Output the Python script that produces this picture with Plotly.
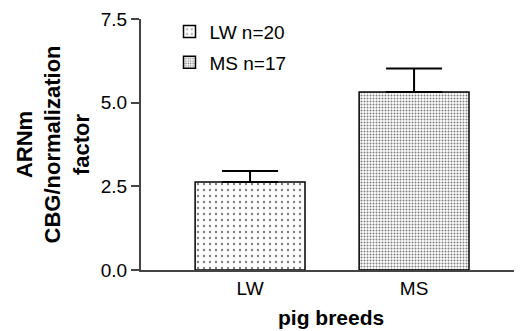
import plotly.graph_objects as go

categories = ["LW", "MS"]
legend_names = ["LW n=20", "MS n=17"]
means = [2.63, 5.32]
sem = [0.33, 0.70]
y_ticks = [0.0, 2.5, 5.0, 7.5]

FONT = "Liberation Sans, Arial, sans-serif"

# page has an 8px body margin; figure is sized/offset to compensate
W, H = 514, 323
L, T, B, R = 133, 7, 61, 1
PW = W - L - R
PH = H - T - B

patterns = [
    dict(shape=".", size=6, solidity=0.12, fgcolor="black", bgcolor="white", fillmode="overlay"),
    dict(shape=".", size=3, solidity=0.35, fgcolor="black", bgcolor="white", fillmode="overlay"),
]

fig = go.Figure()
for i, cat in enumerate(categories):
    fig.add_trace(go.Bar(
        x=[i], y=[means[i]], name=legend_names[i], width=0.67,
        legendgroup=cat,
        marker=dict(color="white", line=dict(color="black", width=1.5), pattern=patterns[i]),
        error_y=dict(type="data", array=[sem[i]], arrayminus=[0], symmetric=False,
                     color="black", thickness=2, width=28),
    ))

fig.update_layout(
    width=W, height=H,
    margin=dict(l=L, r=R, t=T, b=B),
    paper_bgcolor="white", plot_bgcolor="white",
    font=dict(family=FONT, color="black"),
    showlegend=True,
    legend=dict(x=0.075, y=1.025, xanchor="left", yanchor="top",
                font=dict(size=19, family=FONT), bgcolor="rgba(0,0,0,0)",
                tracegroupgap=3, traceorder="grouped"),
    xaxis=dict(range=[-0.665, 1.652], tickvals=[0, 1], ticktext=categories,
               showline=True, linecolor="#444", linewidth=2, ticks="",
               tickfont=dict(size=19), showgrid=False, zeroline=False),
    yaxis=dict(range=[0, 7.5], tickvals=y_ticks, tickformat=".1f",
               showline=True, linecolor="#444", linewidth=2, ticks="outside",
               ticklen=8, tickwidth=2, tickcolor="#444", ticklabeloverflow="allow",
               tickfont=dict(size=19), showgrid=False, zeroline=False),
    annotations=[
        dict(text="<b>ARNm<br>CBG/normalization<br>factor</b>", xref="paper", yref="paper",
             x=(44 - L) / PW, y=0.5, xanchor="center", yanchor="middle",
             textangle=-90, showarrow=False, font=dict(size=22, family=FONT)),
        dict(text="<b>pig breeds</b>", xref="paper", yref="paper",
             x=0.5, y=-(48 / PH), xanchor="center", yanchor="middle",
             showarrow=False, font=dict(size=21, family=FONT)),
    ],
)

fig.write_html("out.html")
